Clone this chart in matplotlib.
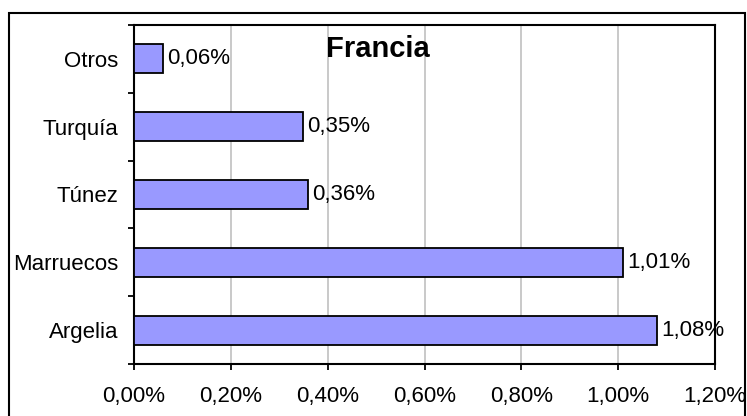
import numpy as np
import matplotlib.pyplot as plt
from matplotlib.patches import Rectangle
from matplotlib.ticker import FixedLocator, FuncFormatter

plt.rcParams["font.family"] = ["Liberation Sans", "DejaVu Sans"]

# data
countries = ["Argelia", "Marruecos", "Túnez", "Turquía", "Otros"]
shares = [1.08, 1.01, 0.36, 0.35, 0.06]
x_ticks = [0.0, 0.2, 0.4, 0.6, 0.8, 1.0, 1.2]
title = "Francia"


def pct(v):
    return f"{v:.2f}%".replace(".", ",")


fig = plt.figure(figsize=(7.47, 4.16), dpi=100)
ax = fig.add_axes([134 / 747, 1 - 364 / 416, 581 / 747, 339 / 416])

y = np.arange(len(countries))
bars = ax.barh(y, shares, height=0.43, color="#9999FF",
               edgecolor="black", linewidth=1.3, zorder=3)

for b, v in zip(bars, shares):
    ax.text(b.get_width() + 0.008, b.get_y() + b.get_height() / 2, pct(v),
            va="center", ha="left", fontsize=16, zorder=4)

ax.set_xlim(0, 1.2)
ax.set_ylim(-0.5, len(countries) - 0.5)
ax.set_xticks(x_ticks)
ax.xaxis.set_major_formatter(FuncFormatter(lambda v, p: pct(v)))
ax.grid(axis="x", color="#C0C0C0", linewidth=1.2, zorder=0)

ax.set_yticks(y)
ax.set_yticklabels(countries)
ax.yaxis.set_minor_locator(FixedLocator(np.arange(-0.5, len(countries), 1.0)))
ax.tick_params(axis="y", which="major", length=0, pad=11.5, labelsize=16)
ax.tick_params(axis="y", which="minor", length=4.5, width=1.3)
ax.tick_params(axis="x", which="major", length=4.5, width=1.3, pad=11, labelsize=16)

for s in ax.spines.values():
    s.set_linewidth(1.5)

ax.text(0.42, 0.928, title, transform=ax.transAxes, ha="center", va="center",
        fontsize=21, fontweight="bold", zorder=5)

# outer chart frame
fig.patches.append(Rectangle((9 / 747, -0.05), 736 / 747, 1.05 - 13 / 416,
                             transform=fig.transFigure, fill=False,
                             edgecolor="black", linewidth=1.5))

fig.savefig("out.png", dpi=100)
